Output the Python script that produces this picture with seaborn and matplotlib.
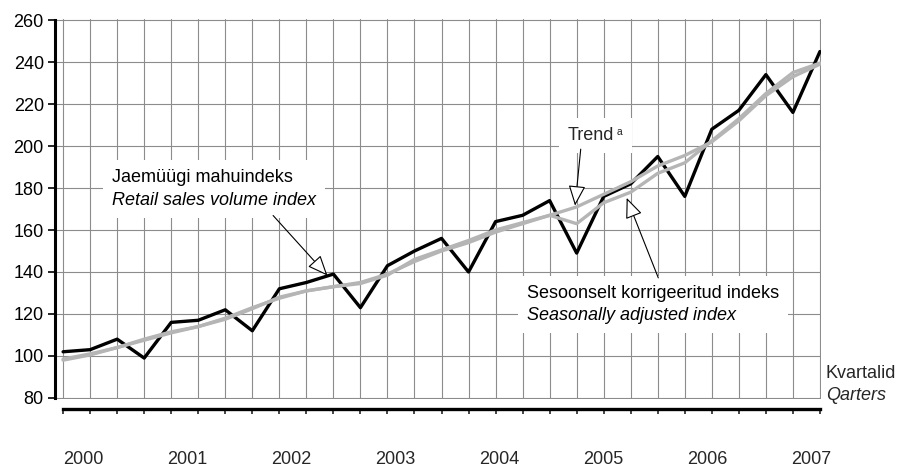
import numpy as np
import pandas as pd
import matplotlib
matplotlib.use("Agg")
import matplotlib.pyplot as plt
import matplotlib.transforms as mtransforms
from matplotlib.offsetbox import TextArea, VPacker, HPacker, AnnotationBbox
import seaborn as sns

# Quarterly retail sales volume index, 2000 Q1 - 2007 Q1
years = ["2000", "2001", "2002", "2003", "2004", "2005", "2006", "2007"]
retail_index = [102, 103, 108, 99, 116, 117, 122, 112, 132, 135, 139, 123,
                143, 150, 156, 140, 164, 167, 174, 149, 176, 182, 195, 176,
                208, 217, 234, 216, 245]
seasonally_adjusted = [98, 100.5, 104, 108, 111.5, 114, 117.5, 122.5, 128, 131,
                       133, 134.5, 138.5, 146, 150.5, 155, 160, 163.5, 167, 163,
                       173, 178, 187, 192, 202.5, 213, 225, 235, 239.5]
trend = [98.5, 101, 104, 107.5, 111, 114, 118, 123, 127.5, 131, 133, 135, 139,
         145, 150, 154, 159, 163, 167, 171, 177, 183, 190.5, 195.5, 202, 212,
         224, 233, 239]
y_ticks = [80, 100, 120, 140, 160, 180, 200, 220, 240, 260]

quarters = np.arange(len(retail_index))
df = pd.DataFrame({"quarter": quarters, "retail": retail_index,
                   "sa": seasonally_adjusted, "trend": trend})

sns.set_theme(style="white")
plt.rcParams["font.family"] = ["Liberation Sans", "DejaVu Sans"]
FS = 13

fig = plt.figure(figsize=(8.97, 4.67), dpi=100)
ax = fig.add_axes([0.0613, 0.1456, 0.8543, 0.8137])

sns.lineplot(data=df, x="quarter", y="retail", ax=ax, color="black", lw=2.4, zorder=3)
sns.lineplot(data=df, x="quarter", y="sa", ax=ax, color="#b5b5b5", lw=2.4, zorder=4)
sns.lineplot(data=df, x="quarter", y="trend", ax=ax, color="#b5b5b5", lw=2.4, zorder=4)

ax.set_xlim(-0.3, 28.05)
ax.set_ylim(79.5, 260.5)
ax.set_xticks(quarters)
ax.set_yticks(y_ticks)
ax.set_xlabel("")
ax.set_ylabel("")
ax.grid(True, color="#8c8c8c", lw=0.8)
ax.set_axisbelow(True)

for side in ("top", "right"):
    ax.spines[side].set_visible(False)
ax.spines["left"].set_color("black")
ax.spines["left"].set_linewidth(2.2)
ax.spines["left"].set_bounds(80, 260)
ax.spines["bottom"].set_color("black")
ax.spines["bottom"].set_linewidth(2.4)
ax.spines["bottom"].set_position(("outward", 7.2))
ax.spines["bottom"].set_bounds(0, 28)

ax.tick_params(axis="y", left=True, direction="out", length=5, width=1.2,
               labelsize=FS, pad=3, colors="black")
ax.tick_params(axis="x", bottom=True, direction="out", length=3.8, width=1.2,
               labelbottom=False)

# Year labels below the quarter axis
trans = mtransforms.blended_transform_factory(ax.transData, fig.transFigure)
for i, yr in enumerate(years):
    ax.text(0.74 + 3.85 * i, 0.016, yr, transform=trans, ha="center",
            va="center", fontsize=FS)


def label_box(lines, xy, zorder=2.5):
    areas = [TextArea(t, textprops=dict(fontsize=FS, style=s, color="black"))
             for t, s in lines]
    pack = VPacker(children=areas, align="left", pad=0, sep=4)
    ab = AnnotationBbox(pack, xy, xycoords="data", box_alignment=(0, 0.5),
                        frameon=True, pad=0.6,
                        bboxprops=dict(facecolor="white", edgecolor="none"))
    ab.set_zorder(zorder)
    ax.add_artist(ab)


def pointer(start, end):
    ax.annotate("", xy=end, xytext=start, xycoords="data",
                arrowprops=dict(arrowstyle="-|>,head_length=0.9,head_width=0.38",
                                fc="white", ec="black", lw=0.8,
                                mutation_scale=14, shrinkA=0, shrinkB=0),
                zorder=6)


label_box([("Jaemüügi mahuindeks", "normal"),
           ("Retail sales volume index", "italic")], (1.81, 179.5))
pointer((7.77, 166.9), (9.78, 138.3))

# Trend label with superscript note mark
trend_pack = HPacker(children=[TextArea("Trend", textprops=dict(fontsize=FS)),
                               TextArea(" a", textprops=dict(fontsize=7.5))],
                     align="top", pad=0, sep=0)
ab = AnnotationBbox(trend_pack, (18.68, 205.0), xycoords="data",
                    box_alignment=(0, 0.5), frameon=True, pad=0.6,
                    bboxprops=dict(facecolor="white", edgecolor="none"))
ab.set_zorder(2.5)
ax.add_artist(ab)
pointer((19.15, 198.5), (18.94, 171.6))

label_box([("Sesoonselt korrigeeritud indeks", "normal"),
           ("Seasonally adjusted index", "italic")], (17.16, 124.5))
pointer((22.02, 137.2), (20.85, 175.3))

ax.text(28.22, 91.6, "Kvartalid", ha="left", va="center", fontsize=FS, clip_on=False)
ax.text(28.22, 81.1, "Qarters", ha="left", va="center", fontsize=FS,
        style="italic", clip_on=False)

fig.savefig("out.png", dpi=100)
